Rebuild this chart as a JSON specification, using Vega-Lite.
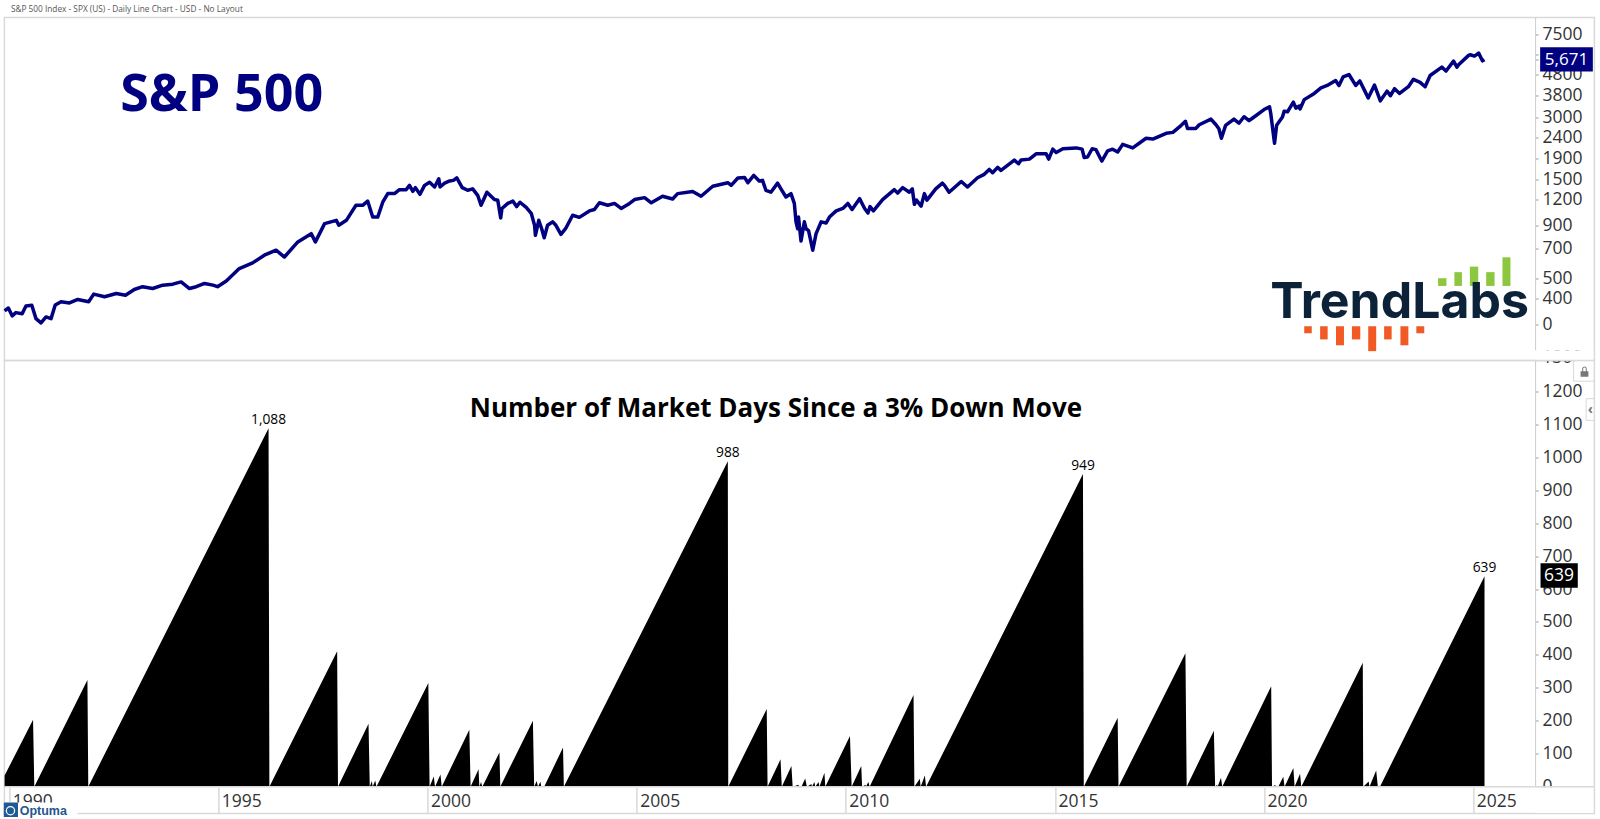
{"$schema":"https://vega.github.io/schema/vega-lite/v6.json","background":"white","padding":{"left":1.4,"top":3.5,"right":0,"bottom":0},"spacing":0,"bounds":"flush","config":{"view":{"stroke":"#d9d9d9","strokeWidth":1.5},"font":"Open Sans"},
"datasets":{"price":[[1989.89,349],[1989.98,360],[1990.07,330],[1990.16,342],[1990.31,338],[1990.40,368],[1990.54,371],[1990.64,320],[1990.76,305],[1990.88,326],[1991.00,320],[1991.10,372],[1991.24,386],[1991.44,381],[1991.64,396],[1991.90,386],[1992.02,420],[1992.28,408],[1992.56,423],[1992.78,415],[1992.99,442],[1993.19,456],[1993.43,447],[1993.67,464],[1993.91,469],[1994.11,481],[1994.31,447],[1994.47,456],[1994.67,473],[1994.87,464],[1994.98,456],[1995.19,486],[1995.50,558],[1995.82,594],[1996.10,647],[1996.38,684],[1996.58,634],[1996.90,750],[1997.22,822],[1997.32,750],[1997.54,919],[1997.82,953],[1997.88,902],[1998.06,953],[1998.29,1126],[1998.45,1126],[1998.57,1180],[1998.69,988],[1998.81,988],[1998.93,1165],[1999.05,1282],[1999.21,1282],[1999.33,1340],[1999.49,1340],[1999.57,1405],[1999.65,1315],[1999.71,1370],[1999.82,1272],[1999.93,1405],[2000.05,1455],[2000.17,1380],[2000.27,1510],[2000.30,1380],[2000.41,1440],[2000.53,1475],[2000.62,1485],[2000.70,1528],[2000.83,1370],[2000.96,1330],[2001.08,1352],[2001.20,1258],[2001.28,1126],[2001.42,1302],[2001.60,1200],[2001.68,1192],[2001.75,979],[2001.78,1087],[2001.92,1150],[2002.04,1180],[2002.13,1110],[2002.21,1165],[2002.36,1100],[2002.48,1030],[2002.56,902],[2002.58,807],[2002.66,953],[2002.73,868],[2002.79,785],[2002.87,902],[2002.99,937],[2003.07,902],[2003.19,816],[2003.30,868],[2003.47,1008],[2003.63,985],[2003.87,1058],[2003.99,1075],[2004.11,1158],[2004.31,1126],[2004.47,1150],[2004.63,1087],[2004.83,1150],[2004.95,1200],[2005.19,1226],[2005.35,1158],[2005.62,1245],[2005.86,1208],[2005.98,1282],[2006.34,1313],[2006.54,1245],[2006.82,1391],[2007.18,1447],[2007.26,1405],[2007.42,1525],[2007.58,1535],[2007.66,1447],[2007.80,1570],[2007.93,1475],[2008.01,1485],[2008.09,1330],[2008.21,1302],[2008.37,1440],[2008.45,1352],[2008.57,1235],[2008.69,1282],[2008.77,1150],[2008.81,937],[2008.85,868],[2008.87,988],[2008.93,757],[2009.01,937],[2009.05,868],[2009.11,850],[2009.21,684],[2009.29,822],[2009.41,937],[2009.53,925],[2009.61,988],[2009.77,1058],[2009.93,1087],[2010.05,1150],[2010.15,1075],[2010.33,1212],[2010.45,1087],[2010.53,1033],[2010.58,1110],[2010.66,1058],[2010.88,1200],[2011.16,1340],[2011.24,1290],[2011.36,1370],[2011.52,1302],[2011.59,1352],[2011.64,1138],[2011.69,1192],[2011.80,1115],[2011.88,1282],[2011.94,1192],[2012.15,1352],[2012.31,1440],[2012.36,1405],[2012.47,1302],[2012.76,1467],[2012.91,1380],[2013.15,1528],[2013.31,1588],[2013.43,1677],[2013.51,1616],[2013.63,1716],[2013.71,1660],[2014.03,1860],[2014.13,1786],[2014.19,1860],[2014.39,1880],[2014.55,1995],[2014.79,1995],[2014.85,1880],[2014.95,2100],[2015.03,2025],[2015.19,2110],[2015.51,2130],[2015.65,2100],[2015.70,1915],[2015.78,1925],[2015.89,2110],[2015.98,2090],[2016.12,1840],[2016.26,2060],[2016.38,2100],[2016.50,2035],[2016.62,2214],[2016.86,2130],[2017.18,2370],[2017.34,2350],[2017.66,2505],[2017.82,2530],[2018.02,2735],[2018.12,2860],[2018.17,2645],[2018.37,2645],[2018.45,2755],[2018.73,2930],[2018.85,2755],[2018.92,2635],[2018.98,2370],[2019.08,2735],[2019.28,2930],[2019.40,2800],[2019.52,3010],[2019.64,2880],[2019.72,2960],[2020.00,3260],[2020.13,3360],[2020.16,3120],[2020.25,2240],[2020.30,2735],[2020.44,3000],[2020.48,3200],[2020.56,3180],[2020.70,3540],[2020.76,3310],[2020.84,3390],[2020.86,3280],[2020.96,3640],[2021.20,3900],[2021.36,4150],[2021.51,4260],[2021.71,4500],[2021.79,4260],[2021.89,4680],[2022.03,4810],[2022.19,4260],[2022.29,4480],[2022.41,4000],[2022.49,3710],[2022.64,4280],[2022.78,3590],[2022.94,4000],[2023.02,3800],[2023.12,4110],[2023.24,3900],[2023.45,4200],[2023.57,4560],[2023.73,4410],[2023.85,4200],[2023.97,4760],[2024.25,5220],[2024.35,5000],[2024.53,5580],[2024.61,5220],[2024.65,5360],[2024.89,5950],[2024.93,5990],[2025.03,5900],[2025.13,6100],[2025.22,5600],[2025.27,5671]]},
"vconcat":[
{"width":1590,"height":343,
"encoding":{"x":{"field":"year","type":"quantitative","scale":{"domain":[1989.885,2027.897],"nice":false,"zero":false},"axis":null},"y":{"field":"price","type":"quantitative","scale":{"type":"log","domain":[201,9058],"nice":false,"zero":false},"axis":{"orient":"right","offset":-59.3,"title":null,"grid":false,"values":[300,400,500,700,900,1200,1500,1900,2400,3000,3800,4800,5671,6000,7500],"format":"d","labelExpr":"datum.value==300?'0':(datum.value==5671||datum.value==6000)?'':datum.label","labelFontSize":17.5,"labelColor":"#333333","labelOverlap":false,"labelBound":false,"labelFlush":false,"tickSize":3,"tickColor":"#999999","domainColor":"#cccccc","labelPadding":4}}},
"layer":[
{"data":{"name":"price"},"transform":[{"calculate":"datum[0]","as":"year"},{"calculate":"datum[1]","as":"price"}],"mark":{"type":"line","color":"#000080","strokeWidth":3.5,"strokeJoin":"round"}},
{"data":{"values":[{"year":1995.08,"price":3201,"label":"S&P 500"}]},"mark":{"type":"text","font":"Open Sans","fontWeight":"bold","fontSize":52,"color":"#000080","align":"center","baseline":"alphabetic"},"encoding":{"text":{"field":"label"}}},
{"data":{"values":[{"year":1990.04,"price":9898,"label":"S&P 500 Index - SPX (US) - Daily Line Chart - USD - No Layout"}]},"mark":{"type":"text","font":"Open Sans","fontSize":8.3,"color":"#555555","align":"left","baseline":"middle"},"encoding":{"text":{"field":"label"}}},
{"data":{"values":[{"year":2024.16,"year2":2024.36,"price":460,"price2":501},{"year":2024.55,"year2":2024.73,"price":460,"price2":536},{"year":2024.92,"year2":2025.12,"price":460,"price2":570},{"year":2025.31,"year2":2025.51,"price":460,"price2":536},{"year":2025.70,"year2":2025.89,"price":460,"price2":632}]},"mark":{"type":"rect","color":"#8dc63f"},"encoding":{"x2":{"field":"year2"},"y2":{"field":"price2"}}},
{"data":{"values":[{"year":2020.96,"year2":2021.14,"price":294,"price2":272},{"year":2021.34,"year2":2021.52,"price":294,"price2":254},{"year":2021.72,"year2":2021.91,"price":294,"price2":238},{"year":2022.10,"year2":2022.30,"price":294,"price2":254},{"year":2022.49,"year2":2022.68,"price":294,"price2":223},{"year":2022.87,"year2":2023.05,"price":294,"price2":254},{"year":2023.26,"year2":2023.45,"price":294,"price2":238},{"year":2023.64,"year2":2023.83,"price":294,"price2":272}]},"mark":{"type":"rect","color":"#f15a24"},"encoding":{"x2":{"field":"year2"},"y2":{"field":"price2"}}},
{"data":{"values":[{"year":2023.24,"price":322,"label":"TrendLabs"}]},"mark":{"type":"text","font":"Inter","fontWeight":700,"fontSize":50,"color":"#0b2239","align":"center","baseline":"alphabetic"},"encoding":{"text":{"field":"label"}}},
{"data":{"values":[{"year":2026.60,"year2":2027.86,"price":6514,"price2":4974}]},"mark":{"type":"rect","color":"#000080"},"encoding":{"x2":{"field":"year2"},"y2":{"field":"price2"}}},
{"data":{"values":[{"year":2027.23,"price":5671,"label":"5,671"}]},"mark":{"type":"text","font":"Open Sans","fontSize":17,"color":"white","align":"center","baseline":"middle"},"encoding":{"text":{"field":"label"}}}
]},
{"width":1590,"height":453,
"encoding":{"x":{"field":"year","type":"quantitative","scale":{"domain":[1989.885,2027.897],"nice":false,"zero":false},"axis":{"title":null,"grid":false,"values":[1990,1995,2000,2005,2010,2015,2020,2025],"format":"d","tickSize":-26,"tickColor":"#d9d9d9","tickWidth":1.5,"domain":false,"labelAlign":"left","labelBaseline":"middle","labelOffset":3,"labelPadding":14,"labelFontSize":17.5,"labelColor":"#333333","labelFlush":false,"labelOverlap":false,"labelBound":false}},"y":{"field":"days","type":"quantitative","scale":{"domain":[-81.4,1293.9],"nice":false,"zero":false},"axis":{"orient":"right","offset":-59.3,"title":null,"grid":false,"values":[0,100,200,300,400,500,600,700,800,900,1000,1100,1200],"format":"d","labelFontSize":17.5,"labelColor":"#333333","labelOverlap":false,"labelBound":false,"labelFlush":false,"tickSize":3,"tickColor":"#999999","domainColor":"#cccccc","labelPadding":4}}},
"layer":[
{"data":{"values":[{"year":1989.89,"days":34},{"year":1990.57,"days":203},{"year":1990.60,"days":0},{"year":1991.87,"days":324},{"year":1991.89,"days":0},{"year":1996.20,"days":1088},{"year":1996.22,"days":0},{"year":1997.84,"days":411},{"year":1997.86,"days":0},{"year":1998.59,"days":191},{"year":1998.62,"days":0},{"year":1998.67,"days":17},{"year":1998.69,"days":0},{"year":1998.75,"days":19},{"year":1998.78,"days":0},{"year":2000.02,"days":315},{"year":2000.05,"days":0},{"year":2000.15,"days":31},{"year":2000.18,"days":0},{"year":2000.31,"days":37},{"year":2000.34,"days":0},{"year":2001.00,"days":173},{"year":2001.03,"days":0},{"year":2001.22,"days":53},{"year":2001.24,"days":0},{"year":2001.28,"days":14},{"year":2001.31,"days":0},{"year":2001.72,"days":104},{"year":2001.74,"days":0},{"year":2002.52,"days":200},{"year":2002.55,"days":0},{"year":2002.61,"days":17},{"year":2002.64,"days":0},{"year":2002.70,"days":15},{"year":2002.72,"days":0},{"year":2002.79,"days":0},{"year":2003.24,"days":119},{"year":2003.26,"days":0},{"year":2007.18,"days":988},{"year":2007.19,"days":0},{"year":2008.11,"days":236},{"year":2008.13,"days":0},{"year":2008.44,"days":83},{"year":2008.47,"days":0},{"year":2008.70,"days":63},{"year":2008.73,"days":0},{"year":2008.87,"days":6},{"year":2008.88,"days":0},{"year":2008.94,"days":0},{"year":2009.03,"days":25},{"year":2009.07,"days":0},{"year":2009.18,"days":8},{"year":2009.19,"days":0},{"year":2009.25,"days":14},{"year":2009.27,"days":0},{"year":2009.35,"days":14},{"year":2009.37,"days":0},{"year":2009.49,"days":42},{"year":2009.51,"days":0},{"year":2010.10,"days":154},{"year":2010.14,"days":0},{"year":2010.37,"days":63},{"year":2010.39,"days":0},{"year":2010.47,"days":6},{"year":2010.48,"days":0},{"year":2010.54,"days":14},{"year":2010.57,"days":0},{"year":2011.62,"days":278},{"year":2011.64,"days":0},{"year":2011.77,"days":24},{"year":2011.79,"days":0},{"year":2011.89,"days":34},{"year":2011.92,"days":0},{"year":2015.67,"days":949},{"year":2015.69,"days":0},{"year":2016.50,"days":209},{"year":2016.52,"days":0},{"year":2018.12,"days":405},{"year":2018.15,"days":0},{"year":2018.80,"days":170},{"year":2018.83,"days":0},{"year":2018.88,"days":6},{"year":2018.89,"days":0},{"year":2018.97,"days":27},{"year":2019.00,"days":0},{"year":2020.17,"days":305},{"year":2020.19,"days":0},{"year":2020.27,"days":5},{"year":2020.28,"days":0},{"year":2020.34,"days":0},{"year":2020.46,"days":30},{"year":2020.49,"days":0},{"year":2020.70,"days":57},{"year":2020.73,"days":0},{"year":2020.86,"days":39},{"year":2020.89,"days":0},{"year":2022.36,"days":376},{"year":2022.37,"days":0},{"year":2022.50,"days":16},{"year":2022.52,"days":0},{"year":2022.68,"days":49},{"year":2022.72,"days":0},{"year":2022.76,"days":3},{"year":2022.77,"days":0},{"year":2025.27,"days":639}]},"mark":{"type":"area","color":"#000000"},"encoding":{"y2":{"datum":0}}},
{"data":{"values":[{"year":2026.65,"days":1300,"label":"1300"}]},"mark":{"type":"text","font":"Open Sans","fontSize":17.5,"color":"#333333","align":"left","baseline":"middle"},"encoding":{"text":{"field":"label"}}},
{"data":{"values":[{"year":2026.47,"year2":2027.87,"days":-2,"days2":-80},{"year":2026.47,"year2":2027.87,"days":1294.5,"days2":1325}]},"mark":{"type":"rect","color":"white"},"encoding":{"x2":{"field":"year2"},"y2":{"field":"days2"}}},
{"data":{"values":[{"year":1989.885,"year2":2027.897,"days":0}]},"mark":{"type":"rule","color":"#d9d9d9","strokeWidth":1.5},"encoding":{"x2":{"field":"year2"}}},
{"data":{"values":[{"year":2026.47,"year2":2027.897,"days":1293.9}]},"mark":{"type":"rule","color":"#d9d9d9","strokeWidth":1.5},"encoding":{"x2":{"field":"year2"}}},
{"data":{"values":[{"year":1996.20,"days":1088,"label":"1,088"},{"year":2007.18,"days":988,"label":"988"},{"year":2015.67,"days":949,"label":"949"},{"year":2025.27,"days":639,"label":"639"}]},"mark":{"type":"text","font":"Open Sans","fontSize":13.8,"color":"#000000","align":"center","baseline":"middle","dy":-8},"encoding":{"text":{"field":"label"}}},
{"data":{"values":[{"year":2008.33,"days":1148,"label":"Number of Market Days Since a 3% Down Move"}]},"mark":{"type":"text","font":"Open Sans","fontWeight":"bold","fontSize":26,"color":"#000000","align":"center","baseline":"middle"},"encoding":{"text":{"field":"label"}}},
{"data":{"values":[{"year":2026.61,"year2":2027.50,"days":678.5,"days2":603.8}]},"mark":{"type":"rect","color":"#000000"},"encoding":{"x2":{"field":"year2"},"y2":{"field":"days2"}}},
{"data":{"values":[{"year":2027.05,"days":639,"label":"639"}]},"mark":{"type":"text","font":"Open Sans","fontSize":17.5,"color":"white","align":"center","baseline":"middle"},"encoding":{"text":{"field":"label"}}},
{"data":{"values":[{"year":2027.40,"year2":2027.89,"days":1293,"days2":1231},{"year":2027.70,"year2":2027.89,"days":1178,"days2":1112}]},"mark":{"type":"rect","fill":"white","stroke":"#d9d9d9","strokeWidth":1},"encoding":{"x2":{"field":"year2"},"y2":{"field":"days2"}}},
{"data":{"values":[{"year":2027.66,"days":1260.5}]},"mark":{"type":"point","filled":true,"opacity":1,"color":"#777777","size":170,"shape":"M-0.6,-0.05 H0.6 V0.8 H-0.6 Z M-0.35,-0.05 V-0.4 A0.35,0.35 0 0 1 0.35,-0.4 V-0.05 H0.2 V-0.4 A0.2,0.2 0 0 0 -0.2,-0.4 V-0.05 Z"}},
{"data":{"values":[{"year":2027.80,"days":1145,"label":"‹"}]},"mark":{"type":"text","font":"Open Sans","fontWeight":"bold","fontSize":14,"color":"#777777","align":"center","baseline":"middle"},"encoding":{"text":{"field":"label"}}},
{"data":{"values":[{"year":1989.87,"year2":1991.63,"days":-48,"days2":-99.5}]},"mark":{"type":"rect","color":"white"},"encoding":{"x2":{"field":"year2"},"y2":{"field":"days2"}}},
{"data":{"values":[{"year":1989.87,"year2":1990.21,"days":-48,"days2":-92}]},"mark":{"type":"rect","color":"#1f5a96"},"encoding":{"x2":{"field":"year2"},"y2":{"field":"days2"}}},
{"data":{"values":[{"year":1990.03,"days":-73}]},"mark":{"type":"point","filled":true,"opacity":1,"shape":"circle","color":"white","size":90}},
{"data":{"values":[{"year":1990.03,"days":-73}]},"mark":{"type":"point","filled":true,"opacity":1,"shape":"circle","color":"#1f5a96","size":50}},
{"data":{"values":[{"year":1990.25,"days":-85,"label":"Optuma"}]},"mark":{"type":"text","font":"Liberation Sans","fontSize":12.5,"fontWeight":"bold","color":"#24568c","align":"left","baseline":"alphabetic"},"encoding":{"text":{"field":"label"}}}
]}
]}
